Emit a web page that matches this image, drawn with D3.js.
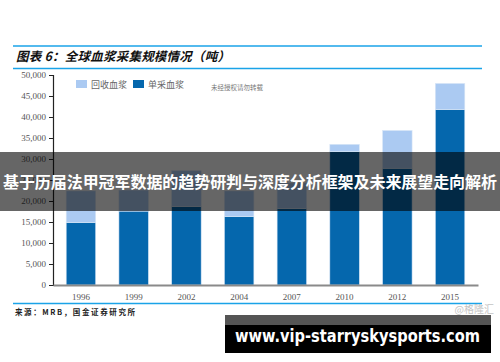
<!DOCTYPE html>
<html>
<head>
<meta charset="utf-8">
<script src="https://cdn.jsdelivr.net/npm/d3@7"></script>
<style>
  body { margin: 0; background: #fff; }
  svg { display: block; }
  .tick text { font-family: "Liberation Serif", "DejaVu Serif", serif; font-size: 9px; fill: #555; }
</style>
</head>
<body>
<div id="chart"></div>
<script>
const years = ['1996', '1999', '2002', '2004', '2007', '2010', '2012', '2015'];
const singleCollected = [14900, 17600, 18700, 16300, 18200, 31800, 27800, 41800]; // 单采血浆
const recovered = [7500, 5000, 8500, 6100, 6100, 1700, 9000, 6200];               // 回收血浆
const seriesNames = ['单采血浆', '回收血浆'];
const yTicks = [0, 5000, 10000, 15000, 20000, 25000, 30000, 35000, 40000, 45000, 50000];

const width = 500, height = 362;
const colors = { single: '#0567ad', recovered: '#abcaf2', rule: '#1aa3e8' };
const cjk = '"Noto Sans CJK SC", "Noto Sans", sans-serif';

const svg = d3.select('#chart').append('svg')
  .attr('width', width)
  .attr('height', height);

// header rules + title
svg.selectAll('line.rule').data([46, 68.5, 303.5]).enter()
  .append('line')
    .attr('class', 'rule')
    .attr('x1', 13).attr('x2', 482)
    .attr('y1', d => d).attr('y2', d => d)
    .attr('stroke', colors.rule)
    .attr('stroke-width', 1.6);

svg.append('text')
  .attr('x', 16).attr('y', 61)
  .attr('font-family', cjk)
  .attr('font-weight', 'bold')
  .attr('font-style', 'italic')
  .attr('font-size', 12.5)
  .attr('textLength', 214)
  .attr('fill', '#111')
  .text('图表 6：全球血浆采集规模情况（吨）');

// scales
const x = d3.scaleBand()
  .domain(years)
  .range([53, 478])
  .paddingInner(0.44)
  .paddingOuter(0.25);
const y = d3.scaleLinear()
  .domain([0, 50000])
  .range([285, 75]);

const rows = years.map((yr, i) => ({ year: yr, single: singleCollected[i], recovered: recovered[i] }));
const stacked = d3.stack().keys(['single', 'recovered'])(rows);

svg.append('g')
  .selectAll('g').data(stacked).enter()
  .append('g')
    .attr('fill', d => colors[d.key])
  .selectAll('rect').data(d => d).enter()
  .append('rect')
    .attr('x', d => x(d.data.year))
    .attr('width', x.bandwidth())
    .attr('y', d => y(d[1]))
    .attr('height', d => y(d[0]) - y(d[1]))
    .attr('stroke', '#dbe8f7')
    .attr('stroke-width', 0.6);

// axes
const yAxis = svg.append('g')
  .attr('transform', 'translate(53,0)')
  .call(d3.axisLeft(y).tickValues(yTicks).tickFormat(d3.format(',')).tickSize(4).tickPadding(3));
yAxis.select('.domain').attr('stroke', '#222').attr('stroke-width', 1.2);
yAxis.selectAll('.tick line').attr('stroke', '#222');

const xAxis = svg.append('g')
  .attr('transform', 'translate(0,285)')
  .call(d3.axisBottom(x).tickSize(0).tickPadding(9));
xAxis.select('.domain').attr('stroke', '#8a8a8a').attr('stroke-width', 2);

// legend
const legend = svg.append('g')
  .selectAll('g').data([
    { name: seriesNames[1], color: colors.recovered, x: 76 },
    { name: seriesNames[0], color: colors.single, x: 133 }
  ]).enter()
  .append('g')
    .attr('transform', d => `translate(${d.x},80)`);
legend.append('rect')
  .attr('width', 11).attr('height', 8)
  .attr('fill', d => d.color);
legend.append('text')
  .attr('x', 15).attr('y', 7.5)
  .attr('font-family', cjk)
  .attr('font-size', 9)
  .attr('fill', '#666')
  .text(d => d.name);

svg.append('text')
  .attr('x', 211).attr('y', 90)
  .attr('font-family', cjk)
  .attr('font-size', 6.5)
  .attr('fill', '#777')
  .text('未经授权请勿转载');

// source line + watermark
svg.append('text')
  .attr('x', 15).attr('y', 315)
  .attr('font-family', cjk)
  .attr('font-weight', 'bold')
  .attr('font-size', 7.5)
  .attr('textLength', 120)
  .attr('fill', '#222')
  .text('来源：MRB，国金证券研究所');

svg.append('text')
  .attr('x', 494).attr('y', 313)
  .attr('text-anchor', 'end')
  .attr('font-family', cjk)
  .attr('font-size', 10)
  .attr('fill', '#c4c4c4')
  .text('@格隆汇');

// overlay banner
svg.append('rect')
  .attr('x', 0).attr('y', 152)
  .attr('width', width).attr('height', 59)
  .attr('fill', 'rgba(0,0,0,0.6)');
svg.append('text')
  .attr('x', 250).attr('y', 188)
  .attr('text-anchor', 'middle')
  .attr('font-family', cjk)
  .attr('font-weight', 'bold')
  .attr('font-size', 16)
  .attr('textLength', 494)
  .attr('fill', '#fff')
  .text('基于历届法甲冠军数据的趋势研判与深度分析框架及未来展望走向解析');

// site box
svg.append('rect')
  .attr('x', 225).attr('y', 315)
  .attr('width', 266).attr('height', 10)
  .attr('fill', '#555');
svg.append('rect')
  .attr('x', 225).attr('y', 325)
  .attr('width', 266).attr('height', 28)
  .attr('fill', '#000');
svg.append('text')
  .attr('x', 235).attr('y', 342)
  .attr('font-family', '"DejaVu Sans", sans-serif')
  .attr('font-weight', 'bold')
  .attr('font-size', 17)
  .attr('textLength', 245)
  .attr('lengthAdjust', 'spacingAndGlyphs')
  .attr('fill', '#fff')
  .text('www.vip-starryskysports.com');
</script>
</body>
</html>
